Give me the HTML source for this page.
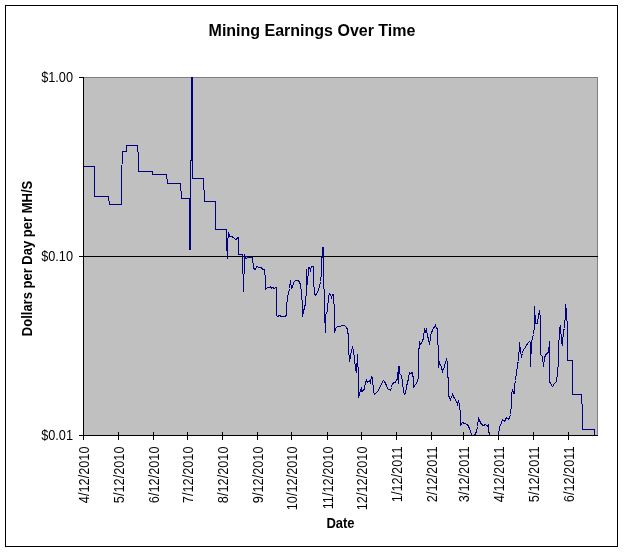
<!DOCTYPE html>
<html>
<head>
<meta charset="utf-8">
<title>Mining Earnings Over Time</title>
<style>
html,body{margin:0;padding:0;background:#fff;}
body{width:624px;height:552px;overflow:hidden;}
svg{display:block;}
text{font-family:"Liberation Sans",sans-serif;fill:#000;}
.txt{filter:grayscale(1);}
.b{font-weight:bold;}
</style>
</head>
<body>
<svg width="624" height="552" viewBox="0 0 624 552">
<rect x="0" y="0" width="624" height="552" fill="#fff"/>
<!-- chart area border -->
<rect x="5.5" y="5.5" width="612" height="541" fill="#fff" stroke="#000" stroke-width="1" shape-rendering="crispEdges"/>
<!-- plot area -->
<rect x="83.5" y="77.5" width="514" height="358" fill="#c0c0c0" stroke="#808080" stroke-width="1" shape-rendering="crispEdges"/>
<!-- gridline -->
<g stroke="#000" stroke-width="1" shape-rendering="crispEdges" fill="none">
<line x1="83" y1="256.5" x2="598" y2="256.5"/>
<!-- y axis -->
<line x1="83.5" y1="77" x2="83.5" y2="436"/>
<line x1="79" y1="77.5" x2="84" y2="77.5"/>
<line x1="79" y1="256.5" x2="84" y2="256.5"/>
<line x1="79" y1="435.5" x2="84" y2="435.5"/>
<!-- x axis -->
<line x1="83" y1="435.5" x2="598" y2="435.5"/>
<g id="xticks">
<line x1="83.5" y1="432" x2="83.5" y2="440"/>
<line x1="118.5" y1="432" x2="118.5" y2="440"/>
<line x1="153.5" y1="432" x2="153.5" y2="440"/>
<line x1="187.5" y1="432" x2="187.5" y2="440"/>
<line x1="222.5" y1="432" x2="222.5" y2="440"/>
<line x1="257.5" y1="432" x2="257.5" y2="440"/>
<line x1="291.5" y1="432" x2="291.5" y2="440"/>
<line x1="327.5" y1="432" x2="327.5" y2="440"/>
<line x1="361.5" y1="432" x2="361.5" y2="440"/>
<line x1="396.5" y1="432" x2="396.5" y2="440"/>
<line x1="431.5" y1="432" x2="431.5" y2="440"/>
<line x1="463.5" y1="432" x2="463.5" y2="440"/>
<line x1="498.5" y1="432" x2="498.5" y2="440"/>
<line x1="533.5" y1="432" x2="533.5" y2="440"/>
<line x1="568.5" y1="432" x2="568.5" y2="440"/>
</g>
</g>
<!-- data series -->
<defs><clipPath id="plotclip"><rect x="84" y="77" width="514" height="358"/></clipPath></defs>
<g id="series" clip-path="url(#plotclip)" fill="none" stroke="#000080" stroke-width="1" stroke-linejoin="miter" stroke-linecap="square" shape-rendering="crispEdges">
<polyline points="84.5,166.5 94.5,166.5 94.5,196.5 108.5,196.5 109.5,204.5 121.5,204.5 121.5,178.5 122.5,151.5 126.5,151.5 126.5,145.5 137.5,145.5 138.5,158.5 138.5,171.5 152.5,171.5 152.5,174.5 166.5,174.5 167.5,183.5 180.5,183.5 181.5,198.5 189.5,198.5 190.5,198.5"/>
<polyline points="189.5,198.5 189.5,249.5"/>
<polyline points="190.5,249.5 190.5,160.5"/>
<polyline points="191.5,160.5 191.5,77.5"/>
<polyline points="192.5,77.5 192.5,178.5"/>
<polyline points="192.5,178.5 203.5,178.5 204.5,201.5 215.5,201.5 215.5,229.5 226.5,229.5 226.5,243.5 227.5,258.5 227.5,243.5 228.5,232.5 229.5,236.5 231.5,236.5 233.5,237.5 235.5,239.5 236.5,239.5 237.5,237.5 238.5,237.5 238.5,254.5 242.5,254.5 242.5,273.5 243.5,274.5 243.5,291.5 243.5,274.5 244.5,273.5 244.5,254.5 245.5,258.5 248.5,257.5 252.5,257.5 253.5,268.5 255.5,269.5 256.5,266.5 259.5,267.5 261.5,267.5 262.5,269.5 264.5,269.5 265.5,279.5 265.5,289.5 267.5,287.5 269.5,287.5 270.5,286.5 271.5,288.5 272.5,287.5 274.5,288.5 275.5,287.5 276.5,287.5 276.5,315.5 277.5,316.5 279.5,315.5 281.5,316.5 285.5,316.5 286.5,314.5 286.5,306.5 287.5,297.5 289.5,288.5 290.5,280.5 291.5,288.5 292.5,287.5 293.5,282.5 295.5,280.5 298.5,280.5 300.5,284.5 301.5,293.5 302.5,306.5 302.5,316.5 303.5,311.5 305.5,303.5 306.5,288.5 306.5,269.5 307.5,284.5 308.5,267.5 309.5,267.5 310.5,270.5 311.5,266.5 313.5,266.5 313.5,280.5 314.5,293.5 315.5,295.5 318.5,290.5 320.5,281.5 321.5,272.5 321.5,258.5 322.5,256.5 322.5,247.5 323.5,247.5 323.5,288.5 324.5,289.5 324.5,312.5 325.5,332.5 325.5,315.5 327.5,310.5 328.5,296.5 329.5,293.5 330.5,294.5 331.5,297.5 332.5,294.5 333.5,294.5 334.5,312.5 334.5,332.5 335.5,328.5 337.5,326.5 340.5,326.5 341.5,325.5 344.5,325.5 346.5,327.5 347.5,329.5 348.5,337.5 348.5,347.5 349.5,361.5 350.5,356.5 351.5,350.5 352.5,347.5 353.5,350.5 354.5,358.5 355.5,369.5 356.5,372.5 357.5,354.5 358.5,378.5 358.5,397.5 360.5,390.5 361.5,387.5 361.5,391.5 363.5,390.5 364.5,388.5 365.5,382.5 366.5,380.5 367.5,382.5 369.5,380.5 370.5,382.5 371.5,376.5 372.5,377.5 373.5,391.5 374.5,394.5 377.5,391.5 379.5,388.5 381.5,383.5 383.5,380.5 384.5,381.5 386.5,385.5 387.5,388.5 390.5,390.5 391.5,387.5 392.5,383.5 394.5,382.5 396.5,381.5 397.5,377.5 398.5,366.5 398.5,383.5 398.5,373.5 399.5,366.5 399.5,373.5 401.5,375.5 402.5,381.5 403.5,391.5 404.5,394.5 405.5,393.5 406.5,386.5 408.5,378.5 409.5,372.5 410.5,373.5 412.5,372.5 413.5,380.5 413.5,387.5 415.5,384.5 417.5,381.5 418.5,377.5 418.5,350.5 419.5,346.5 419.5,341.5 420.5,344.5 422.5,341.5 423.5,337.5 424.5,329.5 425.5,331.5 426.5,329.5 427.5,335.5 428.5,339.5 429.5,344.5 430.5,337.5 431.5,331.5 432.5,331.5 433.5,327.5 434.5,327.5 435.5,325.5 436.5,328.5 437.5,328.5 437.5,340.5 438.5,348.5 438.5,367.5 439.5,362.5 441.5,367.5 442.5,371.5 444.5,366.5 445.5,362.5 446.5,359.5 447.5,362.5 447.5,375.5 448.5,379.5 448.5,395.5 450.5,399.5 452.5,394.5 454.5,398.5 456.5,401.5 457.5,404.5 458.5,400.5 459.5,404.5 460.5,414.5 460.5,425.5 462.5,422.5 464.5,423.5 467.5,424.5 469.5,428.5 471.5,434.5 472.5,435.5 474.5,435.5 476.5,431.5 477.5,426.5 478.5,417.5 479.5,420.5 481.5,424.5 483.5,425.5 485.5,424.5 487.5,426.5 488.5,424.5 488.5,429.5 489.5,435.5"/>
<polyline points="498.5,435.5 499.5,427.5 501.5,422.5 502.5,419.5 504.5,421.5 506.5,417.5 508.5,419.5 509.5,417.5 510.5,414.5 511.5,404.5 511.5,395.5 512.5,389.5 513.5,393.5 514.5,393.5 514.5,386.5 515.5,380.5 516.5,372.5 517.5,366.5 517.5,363.5 518.5,361.5 519.5,342.5 520.5,351.5 521.5,356.5 522.5,353.5 523.5,349.5 524.5,348.5 526.5,345.5 527.5,343.5 529.5,341.5 530.5,342.5 530.5,366.5 531.5,342.5 532.5,337.5 533.5,334.5 534.5,325.5 534.5,306.5 535.5,323.5 537.5,323.5 538.5,315.5 539.5,310.5 540.5,318.5 540.5,338.5 540.5,354.5 542.5,356.5 543.5,366.5 544.5,357.5 546.5,353.5 548.5,352.5 549.5,341.5 549.5,381.5 550.5,383.5 552.5,386.5 554.5,383.5 556.5,381.5 557.5,372.5 558.5,361.5 558.5,352.5 559.5,328.5 560.5,325.5 561.5,342.5 562.5,344.5 563.5,330.5 564.5,328.5 565.5,311.5 565.5,304.5 566.5,310.5 567.5,330.5 567.5,344.5 567.5,360.5 572.5,360.5 572.5,394.5 581.5,394.5 582.5,412.5 582.5,429.5 594.5,429.5 594.5,435.5"/>
</g>
<g class="txt">
<!-- title -->
<text class="b" x="312" y="36" font-size="16" text-anchor="middle">Mining Earnings Over Time</text>
<!-- y labels -->
<g font-size="14" text-anchor="end">
<text transform="translate(73,82) scale(0.91,1)">$1.00</text>
<text transform="translate(73,261) scale(0.91,1)">$0.10</text>
<text transform="translate(73,440) scale(0.91,1)">$0.01</text>
</g>
<!-- axis titles -->
<text class="b" font-size="14" text-anchor="middle" transform="translate(32,258.5) rotate(-90) scale(0.93,1)">Dollars per Day per MH/S</text>
<text class="b" font-size="14" text-anchor="middle" transform="translate(340.5,528) scale(0.93,1)">Date</text>
<!-- x labels -->
<g id="xlabels" font-size="14" text-anchor="end">
<text transform="translate(89,446.5) rotate(-90) scale(0.91,1)">4/12/2010</text>
<text transform="translate(124,446.5) rotate(-90) scale(0.91,1)">5/12/2010</text>
<text transform="translate(159,446.5) rotate(-90) scale(0.91,1)">6/12/2010</text>
<text transform="translate(193,446.5) rotate(-90) scale(0.91,1)">7/12/2010</text>
<text transform="translate(228,446.5) rotate(-90) scale(0.91,1)">8/12/2010</text>
<text transform="translate(263,446.5) rotate(-90) scale(0.91,1)">9/12/2010</text>
<text transform="translate(297,446.5) rotate(-90) scale(0.91,1)">10/12/2010</text>
<text transform="translate(333,446.5) rotate(-90) scale(0.91,1)">11/12/2010</text>
<text transform="translate(367,446.5) rotate(-90) scale(0.91,1)">12/12/2010</text>
<text transform="translate(402,446.5) rotate(-90) scale(0.91,1)">1/12/2011</text>
<text transform="translate(437,446.5) rotate(-90) scale(0.91,1)">2/12/2011</text>
<text transform="translate(469,446.5) rotate(-90) scale(0.91,1)">3/12/2011</text>
<text transform="translate(504,446.5) rotate(-90) scale(0.91,1)">4/12/2011</text>
<text transform="translate(539,446.5) rotate(-90) scale(0.91,1)">5/12/2011</text>
<text transform="translate(574,446.5) rotate(-90) scale(0.91,1)">6/12/2011</text>
</g>
</g>
</svg>
</body>
</html>
